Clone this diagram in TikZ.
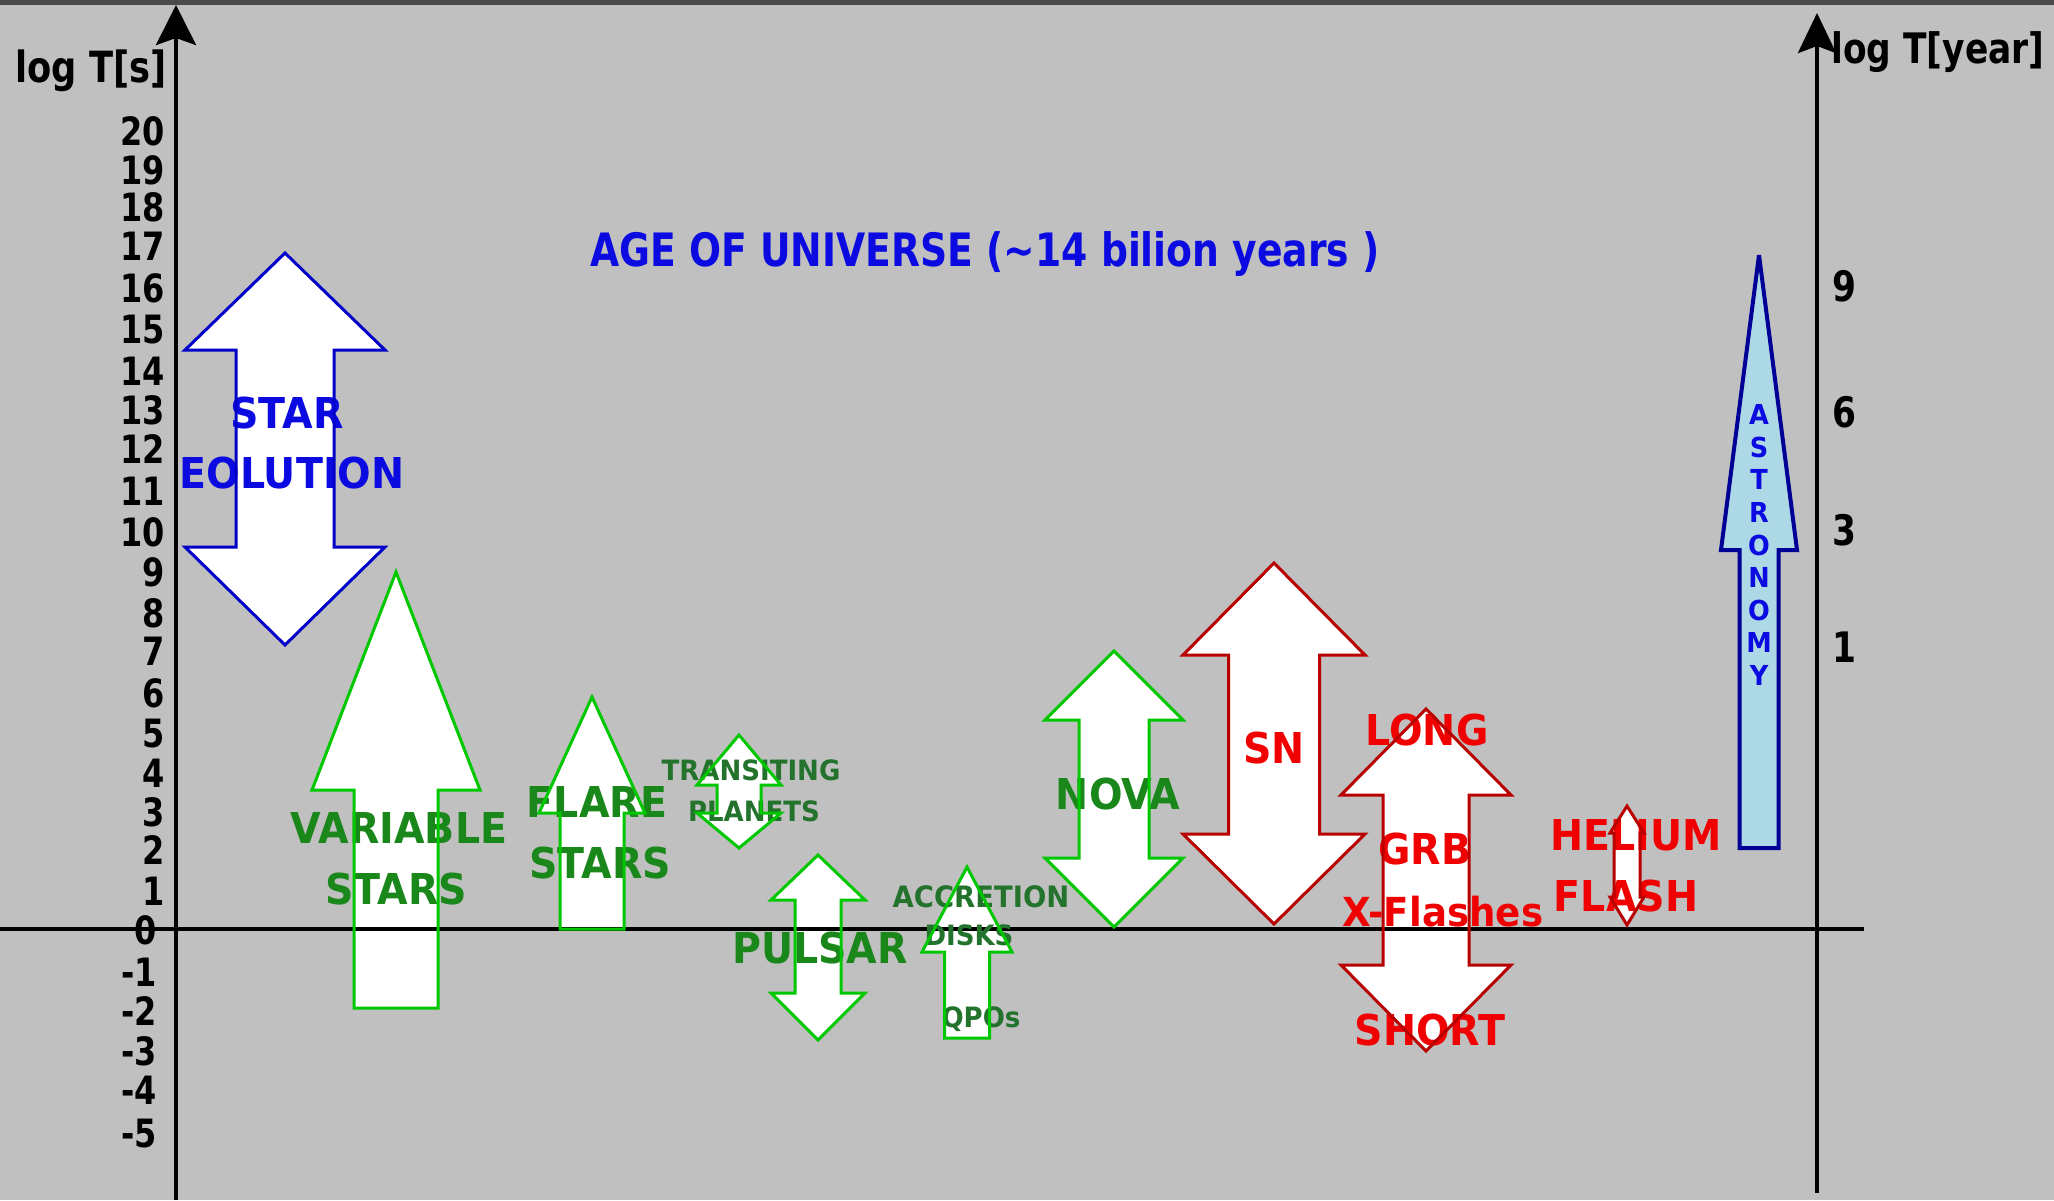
\documentclass[tikz,border=0pt]{standalone}
\usepackage{fontspec}
\usetikzlibrary{arrows.meta}
\newfontfamily\fa[FakeStretch=0.82]{DejaVu Sans}
\newfontfamily\fb[FakeStretch=0.93]{DejaVu Sans}
\newcommand\fsz[1]{\fontsize{#1}{#1}\selectfont}
\definecolor{bgc}{RGB}{192,192,192}
\definecolor{barc}{RGB}{75,75,75}
\definecolor{blueT}{RGB}{10,10,225}
\definecolor{blueL}{RGB}{0,0,200}
\definecolor{navyL}{RGB}{0,0,150}
\definecolor{skyF}{RGB}{173,216,230}
\definecolor{greenL}{RGB}{0,200,0}
\definecolor{greenT}{RGB}{25,135,25}
\definecolor{greenS}{RGB}{35,115,45}
\definecolor{redT}{RGB}{240,0,0}
\definecolor{redL}{RGB}{185,0,0}
% double arrow: style, cx, top, headbase1, headbase2, bottom, head half-width, shaft half-width
\newcommand\DA[8]{\path[#1] ({#2},{#3}) -- ({#2+#7},{#4}) -- ({#2+#8},{#4}) -- ({#2+#8},{#5}) -- ({#2+#7},{#5}) -- ({#2},{#6}) -- ({#2-#7},{#5}) -- ({#2-#8},{#5}) -- ({#2-#8},{#4}) -- ({#2-#7},{#4}) -- cycle;}
% up arrow: style, cx, tip, headbase, bottom, head half-width, shaft half-width
\newcommand\UA[7]{\path[#1] ({#2},{#3}) -- ({#2+#6},{#4}) -- ({#2+#7},{#4}) -- ({#2+#7},{#5}) -- ({#2-#7},{#5}) -- ({#2-#7},{#4}) -- ({#2-#6},{#4}) -- cycle;}
\newcommand\allarrows{%
  \DA{starA}{285}{253}{350}{547}{645}{100}{49}
  \UA{grnA}{396}{572}{790}{1008}{84}{42}
  \UA{grnA}{592}{697}{813}{929}{53}{32}
  \DA{grnA}{739}{735}{785}{813}{848}{42}{22}
  \DA{grnA}{818}{855}{900}{993}{1040}{47}{23}
  \UA{grnA}{967}{867}{952}{1038}{45}{22.5}
  \DA{grnA}{1114}{651}{720}{858}{927}{69}{35}
  \DA{redA}{1274}{563}{655}{834}{924}{91}{45.5}
  \DA{redA}{1426}{709}{795}{965}{1051}{85}{43}
  \DA{redA}{1627}{806}{833}{897}{925}{17}{13}
  \UA{astA}{1759}{255}{550}{848}{38}{19.5}
}
\tikzset{
  num/.style={inner sep=0pt, font=\fa\bfseries\fsz{39}, text=black},
  rnum/.style={inner sep=0pt, font=\fa\bfseries\fsz{42}, text=black, anchor=west},
  lab/.style={inner sep=0pt, anchor=base, font=\fb\bfseries\fsz{42.5}},
  slab/.style={inner sep=0pt, anchor=base, font=\fb\bfseries\fsz{28}},
  axisline/.style={line width=4pt, black},
}
\begin{document}
\begin{tikzpicture}[x=1pt,y=-1pt]
\useasboundingbox (0,0) rectangle (2054,1200);
\fill[bgc] (0,0) rectangle (2054,1200);
\fill[barc] (0,0) rectangle (2054,5);

% arrow fills
\begin{scope}[starA/.style={fill=white}, grnA/.style={fill=white}, redA/.style={fill=white}, astA/.style={fill=skyF}]
\allarrows
\end{scope}

% axes
\coordinate (lbot) at (176,1200);
\coordinate (ltop) at (176,5);
\coordinate (rbot) at (1817,1193);
\coordinate (rtop) at (1817,13);
\coordinate (hl) at (0,929);
\coordinate (hr) at (1864,929);
\draw[axisline] (hl) -- (hr);
\draw[axisline, -{Stealth[length=40pt,width=40pt,inset=7pt]}] (lbot) -- (ltop);
\draw[axisline, -{Stealth[length=40pt,width=38pt,inset=7pt]}] (rbot) -- (rtop);

% axis labels
\node[inner sep=0pt, anchor=base, font=\fa\bfseries\fsz{43}] (ls) at (91,82) {log T[s]};
\node[inner sep=0pt, anchor=base west, font=\fa\bfseries\fsz{42}] (ly) at (1831,63) {log T[year]};

\foreach \v/\yy [count=\i] in {20/131,19/170,18/207,17/246,16/288,15/330,14/371,13/410,12/449,11/491,10/532,9/572,8/613,7/651,6/693,5/734,4/773,3/812,2/850,1/891}
  \node[num, anchor=east] (tp\i) at (165,\yy) {\v};
\foreach \v/\yy [count=\i] in {0/930,-1/972,-2/1011,-3/1051,-4/1090,-5/1134}
  \node[num, anchor=east] (tn\i) at (157,\yy) {\v};

\node[rnum] (r9) at (1832,286) {9};
\node[rnum] (r6) at (1832,412) {6};
\node[rnum] (r3) at (1832,530) {3};
\node[rnum] (r1) at (1832,647) {1};

% title
\node[inner sep=0pt, anchor=base, font=\fa\bfseries\fsz{46}, text=blueT] (age) at (985,266) {AGE OF UNIVERSE (\char"7E 14 bilion years )};

% labels
\node[lab, text=blueT] (star1) at (287,428) {STAR};
\node[lab, text=blueT] (star2) at (292,488) {EOLUTION};
\node[lab, text=greenT] (var1) at (399,843) {VARIABLE};
\node[lab, text=greenT] (var2) at (396,904) {STARS};
\node[lab, text=greenT] (fl1) at (597,817) {FLARE};
\node[lab, text=greenT] (fl2) at (600,878) {STARS};
\node[slab, text=greenS] (tr1) at (751,780) {TRANSITING};
\node[slab, text=greenS] (tr2) at (754,821) {PLANETS};
\node[lab, text=greenT] (pul) at (820,963) {PULSAR};
\node[slab, text=greenS, font=\fb\bfseries\fsz{29.5}] (acc1) at (981,907) {ACCRETION};
\node[slab, text=greenS] (acc2) at (969,945) {DISKS};
\node[slab, text=greenS] (qpo) at (981,1027) {QPOs};
\node[lab, text=greenT] (nova) at (1118,809) {NOVA};
\node[lab, text=redT] (sn) at (1274,763) {SN};
\node[lab, text=redT] (long) at (1427,745) {LONG};
\node[lab, text=redT] (grb) at (1425,864) {GRB};
\node[lab, text=redT, font=\fb\bfseries\fsz{40}] (xfl) at (1443,926) {X-Flashes};
\node[lab, text=redT] (short) at (1430,1045) {SHORT};
\node[lab, text=redT] (hel1) at (1636,850) {HELIUM};
\node[lab, text=redT] (hel2) at (1626,911) {FLASH};

% arrow outlines
\begin{scope}[line join=miter, miter limit=3,
  starA/.style={draw=blueL, line width=3pt},
  grnA/.style={draw=greenL, line width=3pt},
  redA/.style={draw=redL, line width=3pt},
  astA/.style={draw=navyL, line width=4pt}]
\allarrows
\end{scope}

\node[inner sep=0pt, align=center, text=blueT, font=\fb\bfseries\fontsize{27.5}{32.6}\selectfont] (astro) at (1759,545) {A\\S\\T\\R\\O\\N\\O\\M\\Y};
\end{tikzpicture}
\end{document}
